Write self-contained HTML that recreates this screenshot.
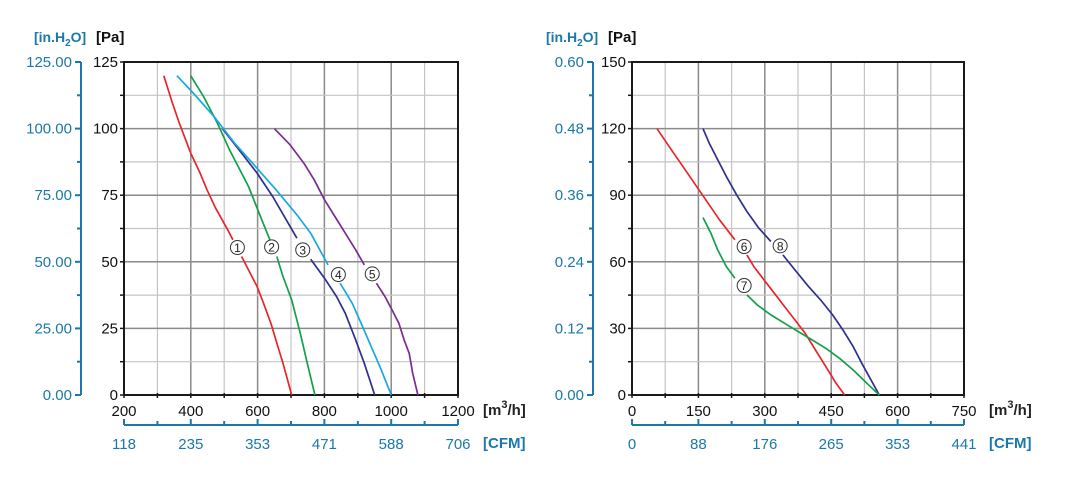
<!DOCTYPE html>
<html><head><meta charset="utf-8">
<style>
html,body{margin:0;padding:0;background:#fff;}
svg{display:block;}
text{font-family:"Liberation Sans",Arial,sans-serif;}
</style></head>
<body>
<svg id="s" width="1074" height="489" viewBox="0 0 1074 489" xmlns="http://www.w3.org/2000/svg"></svg>
<script>
const S=document.getElementById('s');
let h='';
const BL='#1a78aa';
function line(x1,y1,x2,y2,c,w){h+=`<line x1="${x1}" y1="${y1}" x2="${x2}" y2="${y2}" stroke="${c}" stroke-width="${w}"/>`;}
function txt(x,y,t,o){o=o||{};h+=`<text x="${x}" y="${y}" font-size="${o.fs||14}" fill="${o.c||'#111'}" text-anchor="${o.a||'middle'}" ${o.b?'font-weight="bold"':''}>${t}</text>`;}
function chart(X0,X1,blueX,xl,yl,bl,cfm){
  const T=62,B=395;
  const nx=xl.length-1;
  const vx=nx*2, hy=(yl.length-1)*2;
  for(let i=1;i<vx;i++){const x=X0+(X1-X0)*i/vx;line(x,T,x,B,i%2?'#c4c4c4':'#8a8a8a',i%2?1.2:1.5);}
  for(let j=1;j<hy;j++){const y=B-(B-T)*j/hy;line(X0,y,X1,y,j%2?'#c4c4c4':'#8a8a8a',j%2?1.2:1.5);}
  h+=`<rect x="${X0}" y="${T}" width="${X1-X0}" height="${B-T}" fill="none" stroke="#1a1a1a" stroke-width="2"/>`;
  for(let j=0;j<=hy;j++){const y=B-(B-T)*j/hy;line(X0-4,y,X0,y,'#1a1a1a',1.5);}
  for(let i=0;i<=vx;i++){const x=X0+(X1-X0)*i/vx;line(x,B-2,x,B+3,'#1a1a1a',1.5);}
  yl.forEach((t,j)=>{const y=B-(B-T)*j/(yl.length-1);txt(X0-6,y+5,t,{a:'end',fs:15});});
  xl.forEach((t,i)=>{const x=X0+(X1-X0)*i/nx;txt(x,416,t,{fs:15});});
  line(blueX,T,blueX,B,BL,2);
  for(let j=0;j<=hy;j++){const y=B-(B-T)*j/hy;line(blueX-(j%2?4:6),y,blueX,y,BL,2);}
  bl.forEach((t,j)=>{const y=B-(B-T)*j/(bl.length-1);txt(blueX-9,y+5,t,{a:'end',fs:15,c:BL});});
  line(X0,425,X1,425,BL,2);
  for(let i=0;i<=vx;i++){const x=X0+(X1-X0)*i/vx;line(x,425,x,i%2?421:419,BL,2);}
  cfm.forEach((t,i)=>{const x=X0+(X1-X0)*i/nx;txt(x,449,t,{fs:15,c:BL});});
  h+=`<text x="${X1+25}" y="415" font-size="15" font-weight="bold" fill="#222">[m<tspan dy="-7" font-size="11">3</tspan><tspan dy="7">/h]</tspan></text>`;
  txt(X1+25,448,'[CFM]',{a:'start',fs:15,b:1,c:BL});
  h+=`<text x="${blueX-47}" y="42" font-size="14" font-weight="bold" fill="${BL}">[in.H<tspan dy="4" font-size="10">2</tspan><tspan dy="-4">O]</tspan></text>`;
  txt(blueX+15,42,'[Pa]',{a:'start',fs:15,b:1});
}
chart(124,458,81,['200','400','600','800','1000','1200'],['0','25','50','75','100','125'],['0.00','25.00','50.00','75.00','100.00','125.00'],['118','235','353','471','588','706']);
chart(632,964,593,['0','150','300','450','600','750'],['0','30','60','90','120','150'],['0.00','0.12','0.24','0.36','0.48','0.60'],['0','88','176','265','353','441']);
const MAP={L:{z0:360,z1:1326,a0:124,a1:458},R:{z0:295,z1:1263,a0:632,a1:964}};
function mx(k,zx){const m=MAP[k];return m.a0+(zx-m.z0)*(m.a1-m.a0)/(m.z1-m.z0);}
function my(zy){return 62+(zy-127)*333/998;}
function curve(k,pts,c){h+=`<polyline fill="none" stroke="${c}" stroke-width="1.7" stroke-linejoin="round" points="${pts.map(p=>mx(k,p[0]).toFixed(1)+','+my(p[1]).toFixed(1)).join(' ')}"/>`;}
function lab(k,zx,zy,n){const x=mx(k,zx),y=my(zy);h+=`<circle cx="${x}" cy="${y}" r="7" fill="#fff" stroke="#333" stroke-width="1"/>`;txt(x,y+4.5,n,{fs:12,c:'#222'});}
const R='#e8262a',G='#13a04a',N='#2f2f8f',C='#1aa8e0',P='#7a2d91';
curve('L',[[475,168],[500,250],[520,310],[553,400],[580,460],[600,510],[625,565],[660,630],[675,660]],R);
curve('L',[[700,710],[720,750],[745,800],[760,840],[785,910],[805,980],[820,1030],[845,1125]],R);
curve('L',[[553,168],[590,230],[630,310],[665,390],[700,460],[720,500],[745,565],[770,630],[782,660]],G);
curve('L',[[802,710],[820,770],[845,840],[870,940],[890,1030],[912,1125]],G);
curve('L',[[645,327],[700,400],[745,460],[790,530],[835,610],[860,655]],N);
curve('L',[[900,718],[940,775],[975,830],[1000,880],[1030,960],[1055,1030],[1085,1125]],N);
curve('L',[[513,168],[560,220],[620,290],[680,370],[740,440],[800,510],[860,585],[900,640],[950,735]],C);
curve('L',[[985,790],[1020,850],[1050,920],[1075,980],[1100,1040],[1133,1125]],C);
curve('L',[[795,327],[840,375],[880,430],[910,480],[940,540],[970,590],[1000,640],[1030,690],[1055,735]],P);
curve('L',[[1090,790],[1115,830],[1135,870],[1155,910],[1170,960],[1185,1000],[1195,1060],[1210,1125]],P);
lab('L',688,683,'1');lab('L',787,681,'2');lab('L',877,690,'3');lab('L',980,764,'4');lab('L',1078,762,'5');
curve('R',[[368,327],[410,390],[450,450],[490,510],[520,555],[550,600],[595,660]],R);
curve('R',[[630,705],[650,740],[680,780],[710,820],[740,860],[770,900],[800,940],[830,990],[860,1040],[890,1090],[915,1125]],R);
curve('R',[[502,327],[520,370],[545,420],[570,470],[600,525],[630,575],[665,625],[700,665]],N);
curve('R',[[735,705],[770,750],[810,800],[845,840],[880,885],[910,930],[940,980],[965,1030],[1016,1125]],N);
curve('R',[[502,593],[525,640],[545,690],[570,740],[595,775]],G);
curve('R',[[630,825],[660,855],[700,885],[740,910],[780,935],[820,960],[860,985],[900,1015],[940,1050],[980,1090],[1016,1125]],G);
lab('R',622,680,'6');lab('R',727,678,'8');lab('R',622,797,'7');
S.innerHTML=h;
</script>
</body></html>
